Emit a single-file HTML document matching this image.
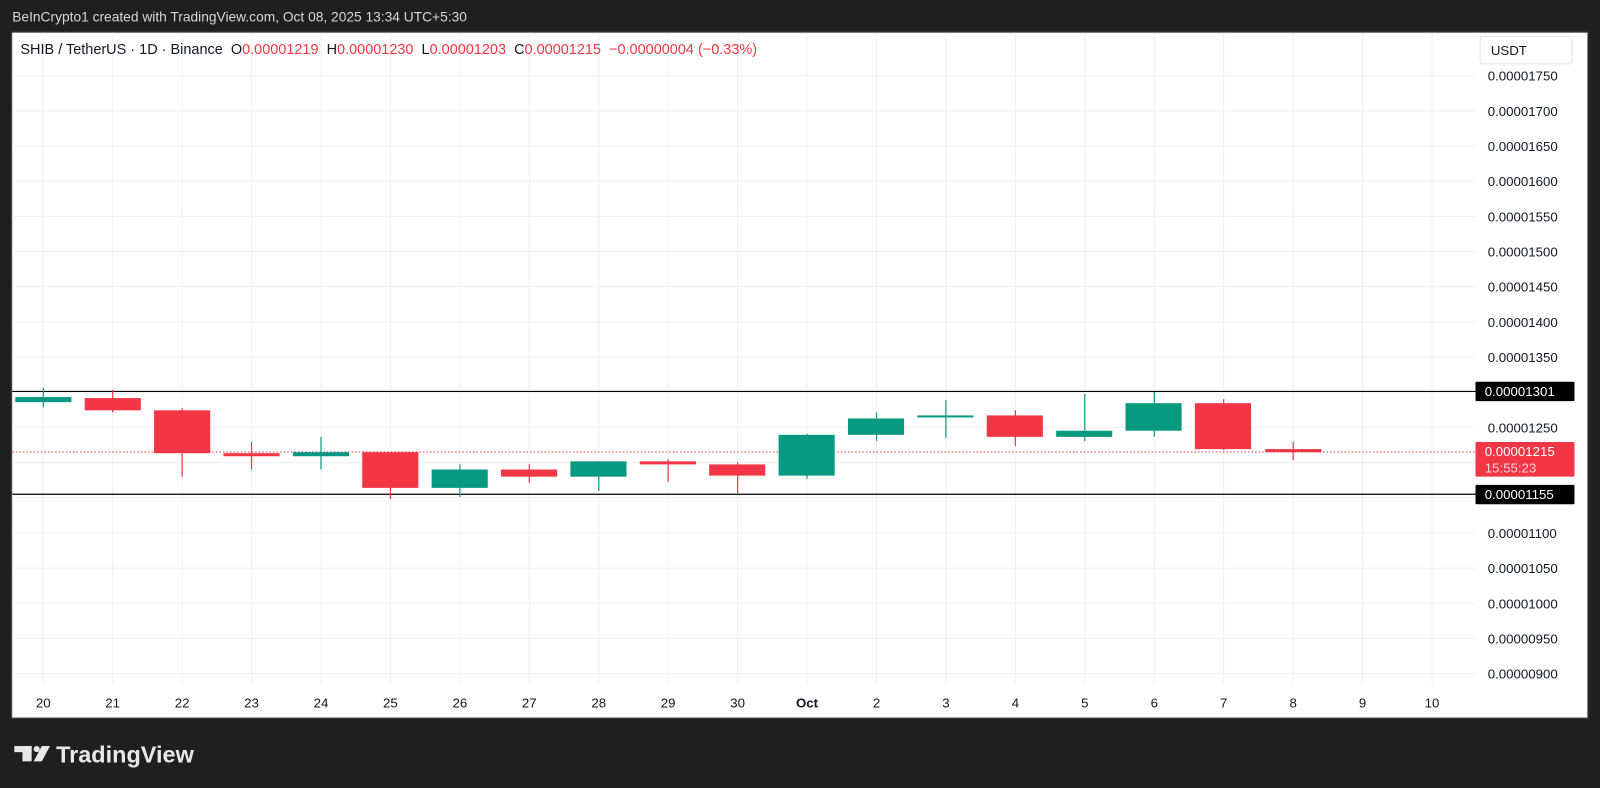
<!DOCTYPE html>
<html><head><meta charset="utf-8"><style>
html,body{margin:0;padding:0;background:#1f1f1f;}
svg{display:block;}
text{font-family:"Liberation Sans",sans-serif;}
</style></head><body>
<svg width="1600" height="788" viewBox="0 0 1568 772" xmlns="http://www.w3.org/2000/svg">
<rect x="0" y="0" width="1568" height="772" fill="#1f1f1f"/>
<text x="12" y="21" font-size="13.5" fill="#d6d6d6">BeInCrypto1 created with TradingView.com, Oct 08, 2025 13:34 UTC+5:30</text>
<rect x="11.5" y="31.5" width="1544.5" height="672" fill="#fff" stroke="#555" stroke-width="1"/>
<g stroke="#f0f0f0" stroke-width="1">
<line x1="12" x2="1446" y1="74" y2="74"/><line x1="12" x2="1446" y1="108.5" y2="108.5"/><line x1="12" x2="1446" y1="143" y2="143"/><line x1="12" x2="1446" y1="177.4" y2="177.4"/><line x1="12" x2="1446" y1="211.9" y2="211.9"/><line x1="12" x2="1446" y1="246.4" y2="246.4"/><line x1="12" x2="1446" y1="280.8" y2="280.8"/><line x1="12" x2="1446" y1="315.3" y2="315.3"/><line x1="12" x2="1446" y1="349.8" y2="349.8"/><line x1="12" x2="1446" y1="418.7" y2="418.7"/><line x1="12" x2="1446" y1="453.2" y2="453.2"/><line x1="12" x2="1446" y1="522.1" y2="522.1"/><line x1="12" x2="1446" y1="556.6" y2="556.6"/><line x1="12" x2="1446" y1="591.1" y2="591.1"/><line x1="12" x2="1446" y1="625.5" y2="625.5"/><line x1="12" x2="1446" y1="660" y2="660"/><line x1="12" x2="1446" y1="384.2" y2="384.2"/><line x1="12" x2="1446" y1="487.6" y2="487.6"/>
<line x1="42.4" x2="42.4" y1="32" y2="670"/><line x1="110.4" x2="110.4" y1="32" y2="670"/><line x1="178.5" x2="178.5" y1="32" y2="670"/><line x1="246.5" x2="246.5" y1="32" y2="670"/><line x1="314.6" x2="314.6" y1="32" y2="670"/><line x1="382.6" x2="382.6" y1="32" y2="670"/><line x1="450.7" x2="450.7" y1="32" y2="670"/><line x1="518.7" x2="518.7" y1="32" y2="670"/><line x1="586.8" x2="586.8" y1="32" y2="670"/><line x1="654.8" x2="654.8" y1="32" y2="670"/><line x1="722.9" x2="722.9" y1="32" y2="670"/><line x1="790.9" x2="790.9" y1="32" y2="670"/><line x1="859" x2="859" y1="32" y2="670"/><line x1="927" x2="927" y1="32" y2="670"/><line x1="995.1" x2="995.1" y1="32" y2="670"/><line x1="1063.1" x2="1063.1" y1="32" y2="670"/><line x1="1131.2" x2="1131.2" y1="32" y2="670"/><line x1="1199.2" x2="1199.2" y1="32" y2="670"/><line x1="1267.3" x2="1267.3" y1="32" y2="670"/><line x1="1335.3" x2="1335.3" y1="32" y2="670"/><line x1="1403.4" x2="1403.4" y1="32" y2="670"/>
</g>
<text x="20" y="53" font-size="14.2" fill="#131722" xml:space="preserve">SHIB / TetherUS · 1D · Binance  O<tspan fill="#f23645">0.00001219</tspan>  H<tspan fill="#f23645">0.00001230</tspan>  L<tspan fill="#f23645">0.00001203</tspan>  C<tspan fill="#f23645">0.00001215</tspan>  <tspan fill="#f23645">−0.00000004 (−0.33%)</tspan></text>
<line x1="12" x2="1446" y1="383.5" y2="383.5" stroke="#000" stroke-width="1.2"/>
<line x1="12" x2="1446" y1="484.2" y2="484.2" stroke="#000" stroke-width="1.2"/>
<line x1="12" x2="1446" y1="442.8" y2="442.8" stroke="#f23645" stroke-width="1" stroke-dasharray="1.5,2"/>
<g stroke-width="1.2">
<g fill="#089981" stroke="#089981"><line x1="42.4" x2="42.4" y1="380" y2="399"/><rect x="15" y="389" width="55" height="5" stroke="none"/></g>
<g fill="#f23645" stroke="#f23645"><line x1="110.4" x2="110.4" y1="382" y2="404"/><rect x="83" y="390" width="55" height="12" stroke="none"/></g>
<g fill="#f23645" stroke="#f23645"><line x1="178.5" x2="178.5" y1="400" y2="467"/><rect x="151" y="402" width="55" height="42" stroke="none"/></g>
<g fill="#f23645" stroke="#f23645"><line x1="246.5" x2="246.5" y1="433" y2="460"/><rect x="219" y="444" width="55" height="3" stroke="none"/></g>
<g fill="#089981" stroke="#089981"><line x1="314.6" x2="314.6" y1="428" y2="460"/><rect x="287" y="443" width="55" height="4" stroke="none"/></g>
<g fill="#f23645" stroke="#f23645"><line x1="382.6" x2="382.6" y1="443" y2="489"/><rect x="355" y="443" width="55" height="35" stroke="none"/></g>
<g fill="#089981" stroke="#089981"><line x1="450.7" x2="450.7" y1="455" y2="487"/><rect x="423" y="460" width="55" height="18" stroke="none"/></g>
<g fill="#f23645" stroke="#f23645"><line x1="518.7" x2="518.7" y1="455" y2="473"/><rect x="491" y="460" width="55" height="7" stroke="none"/></g>
<g fill="#089981" stroke="#089981"><line x1="586.8" x2="586.8" y1="452" y2="481"/><rect x="559" y="452" width="55" height="15" stroke="none"/></g>
<g fill="#f23645" stroke="#f23645"><line x1="654.8" x2="654.8" y1="450" y2="472"/><rect x="627" y="452" width="55" height="3" stroke="none"/></g>
<g fill="#f23645" stroke="#f23645"><line x1="722.9" x2="722.9" y1="453" y2="484"/><rect x="695" y="455" width="55" height="11" stroke="none"/></g>
<g fill="#089981" stroke="#089981"><line x1="790.9" x2="790.9" y1="425" y2="469"/><rect x="763" y="426" width="55" height="40" stroke="none"/></g>
<g fill="#089981" stroke="#089981"><line x1="859" x2="859" y1="404" y2="432"/><rect x="831" y="410" width="55" height="16" stroke="none"/></g>
<g fill="#089981" stroke="#089981"><line x1="927" x2="927" y1="392" y2="429"/><rect x="899" y="407" width="55" height="2" stroke="none"/></g>
<g fill="#f23645" stroke="#f23645"><line x1="995.1" x2="995.1" y1="402" y2="437"/><rect x="967" y="407" width="55" height="21" stroke="none"/></g>
<g fill="#089981" stroke="#089981"><line x1="1063.1" x2="1063.1" y1="386" y2="432"/><rect x="1035" y="422" width="55" height="6" stroke="none"/></g>
<g fill="#089981" stroke="#089981"><line x1="1131.2" x2="1131.2" y1="384" y2="428"/><rect x="1103" y="395" width="55" height="27" stroke="none"/></g>
<g fill="#f23645" stroke="#f23645"><line x1="1199.2" x2="1199.2" y1="391" y2="441"/><rect x="1171" y="395" width="55" height="45" stroke="none"/></g>
<g fill="#f23645" stroke="#f23645"><line x1="1267.3" x2="1267.3" y1="433" y2="451"/><rect x="1240" y="440" width="55" height="3" stroke="none"/></g>
</g>
<g font-size="13" fill="#131722" text-anchor="middle">
<text x="42.4" y="693">20</text><text x="110.4" y="693">21</text><text x="178.5" y="693">22</text><text x="246.5" y="693">23</text><text x="314.6" y="693">24</text><text x="382.6" y="693">25</text><text x="450.7" y="693">26</text><text x="518.7" y="693">27</text><text x="586.8" y="693">28</text><text x="654.8" y="693">29</text><text x="722.9" y="693">30</text><text x="790.9" y="693" font-weight="bold">Oct</text><text x="859" y="693">2</text><text x="927" y="693">3</text><text x="995.1" y="693">4</text><text x="1063.1" y="693">5</text><text x="1131.2" y="693">6</text><text x="1199.2" y="693">7</text><text x="1267.3" y="693">8</text><text x="1335.3" y="693">9</text><text x="1403.4" y="693">10</text>
</g>
<rect x="1450.5" y="35.5" width="90" height="27" rx="3" fill="#fff" stroke="#e0e3eb"/>
<text x="1461" y="54" font-size="13" fill="#131722">USDT</text>
<g font-size="13" fill="#131722">
<text x="1458" y="79">0.00001750</text><text x="1458" y="113.5">0.00001700</text><text x="1458" y="148">0.00001650</text><text x="1458" y="182.4">0.00001600</text><text x="1458" y="216.9">0.00001550</text><text x="1458" y="251.4">0.00001500</text><text x="1458" y="285.8">0.00001450</text><text x="1458" y="320.3">0.00001400</text><text x="1458" y="354.8">0.00001350</text><text x="1458" y="423.7">0.00001250</text><text x="1458" y="527.1">0.00001100</text><text x="1458" y="561.6">0.00001050</text><text x="1458" y="596.1">0.00001000</text><text x="1458" y="630.5">0.00000950</text><text x="1458" y="665">0.00000900</text>
</g>
<rect x="1446" y="374" width="97" height="19" rx="1" fill="#000"/>
<text x="1455" y="388" font-size="13" fill="#fff">0.00001301</text>
<rect x="1446" y="433" width="97" height="34" rx="1" fill="#f23645"/>
<text x="1455" y="447" font-size="13" fill="#fff">0.00001215</text>
<text x="1455" y="463" font-size="13" fill="#ffd6da">15:55:23</text>
<rect x="1446" y="475" width="97" height="19" rx="1" fill="#000"/>
<text x="1455" y="489" font-size="13" fill="#fff">0.00001155</text>
<g fill="#e8e8e8">
<rect x="14" y="731" width="17" height="6"/><rect x="22" y="731" width="9" height="15"/>
<circle cx="36" cy="734" r="3"/>
<polygon points="41,731 49,731 41,746 33,746"/>
</g>
<text x="55" y="747" font-size="23" font-weight="bold" fill="#e8e8e8">TradingView</text>
</svg>
</body></html>
